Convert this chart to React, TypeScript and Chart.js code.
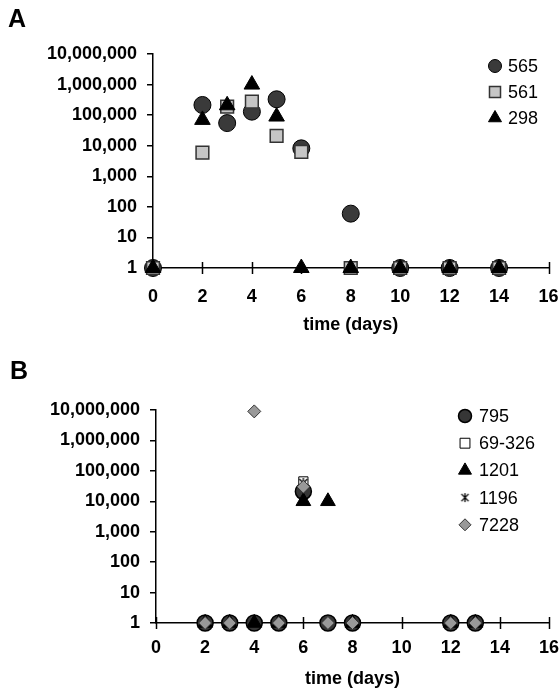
import React, { useEffect, useRef } from "react";
import { Chart, registerables } from "chart.js";
import { drawPoint } from "chart.js/helpers";

Chart.register(...registerables);

const FONT = "'Liberation Sans', Arial, Helvetica, sans-serif";

// Shared axes
const yTickValues = [1, 10, 100, 1000, 10000, 100000, 1000000, 10000000];
const xMin = 0;
const xMax = 16;
const xStep = 2;
const xTitle = "time (days)";

// Panel A
const daysA = [0, 2, 3, 4, 5, 6, 8, 10, 12, 14];
const valsA565 = [1, 215000, 55000, 130000, 330000, 8200, 60, 1, 1, 1];
const valsA561 = [1, 5900, 190000, 275000, 21000, 6300, 1, 1, 1, 1];
const valsA298 = [1, 70000, 210000, 1000000, 90000, 1, 1, 1, 1, 1];

// Panel B
const daysB795 = [2, 3, 4, 5, 6, 7, 8, 12, 13];
const valsB795 = [1, 1, 1, 1, 21000, 1, 1, 1, 1];
const daysB69326 = [6];
const valsB69326 = [45000];
const daysB1201 = [2, 3, 4, 5, 6, 7, 8, 12, 13];
const valsB1201 = [1, 1, 1, 1, 10000, 10000, 1, 1, 1];
const daysB1196 = [6];
const valsB1196 = [40000];
const daysB7228 = [2, 3, 4, 5, 6, 7, 8, 12, 13];
const valsB7228 = [1, 1, 9000000, 1, 30000, 1, 1, 1, 1];

function makeAsterisk(size: number): HTMLCanvasElement {
  const c = document.createElement("canvas");
  c.width = size;
  c.height = size;
  const g = c.getContext("2d")!;
  g.strokeStyle = "#000";
  g.lineWidth = 1.3;
  const m = size / 2;
  const r = size / 2 - 1;
  const d = r * 0.8;
  g.beginPath();
  g.moveTo(m - d, m - d);
  g.lineTo(m + d, m + d);
  g.moveTo(m + d, m - d);
  g.lineTo(m - d, m + d);
  g.moveTo(m, m - r);
  g.lineTo(m, m + r);
  g.stroke();
  return c;
}

function pts(xs: number[], ys: number[]) {
  return xs.map((x, i) => ({ x, y: ys[i] }));
}

const crossTicks = {
  id: "crossTicks",
  beforeDatasetsDraw(chart: any) {
    const xs = chart.scales.x;
    const ctx = chart.ctx;
    const yb = chart.chartArea.bottom;
    ctx.save();
    ctx.strokeStyle = "#000";
    ctx.lineWidth = 1.5;
    for (const t of xs.ticks) {
      const px = Math.round(xs.getPixelForValue(t.value)) + 0.5;
      ctx.beginPath();
      ctx.moveTo(px, yb - 6);
      ctx.lineTo(px, yb + 6);
      ctx.stroke();
    }
    ctx.restore();
  },
};

const customLegend = {
  id: "customLegend",
  afterDraw(chart: any, _args: any, opts: any) {
    const ctx = chart.ctx;
    ctx.save();
    ctx.fillStyle = "#000";
    ctx.font = `bold 25px ${FONT}`;
    ctx.textBaseline = "alphabetic";
    ctx.textAlign = "left";
    ctx.fillText(opts.letter, opts.letterX, opts.letterY);
    opts.items.forEach((it: any, i: number) => {
      const ds = chart.data.datasets[it.index];
      const y = opts.y0 + i * opts.dy;
      ctx.fillStyle = ds.backgroundColor;
      ctx.strokeStyle = ds.borderColor;
      ctx.lineWidth = ds.borderWidth;
      drawPoint(
        ctx,
        { pointStyle: it.style || ds.pointStyle, radius: it.r, rotation: 0, borderWidth: ds.borderWidth },
        opts.markerX,
        y
      );
      ctx.fillStyle = "#000";
      ctx.font = `18px ${FONT}`;
      ctx.textBaseline = "middle";
      ctx.textAlign = "left";
      ctx.fillText(ds.label, opts.textX, y + 1);
    });
    ctx.restore();
  },
};

function makeConfig(datasets: any[], p: any) {
  const tickFont = { family: FONT, size: 18, weight: "bold" as const };
  const titleFont = { family: FONT, size: 18, weight: "bold" as const };
  return {
    type: "scatter" as const,
    data: { datasets },
    options: {
      animation: false as const,
      responsive: false,
      maintainAspectRatio: false,
      layout: { padding: { top: p.top, right: p.right, left: 0, bottom: 0 } },
      plugins: {
        legend: { display: false },
        tooltip: { enabled: false },
        customLegend: p.legend,
      },
      scales: {
        x: {
          type: "linear" as const,
          min: xMin,
          max: xMax,
          ticks: { stepSize: xStep, font: tickFont, color: "#000", padding: p.xLabelPad, maxRotation: 0 },
          grid: { display: false },
          border: { display: true, color: "#000", width: 1.5 },
          title: {
            display: true,
            text: xTitle,
            color: "#000",
            font: titleFont,
            padding: { top: 0, bottom: p.titlePad },
          },
          afterFit: (s: any) => {
            s.height = p.xHeight;
            s.paddingLeft = 0;
            s.paddingRight = 0;
          },
        },
        y: {
          type: "logarithmic" as const,
          min: yTickValues[0],
          max: yTickValues[yTickValues.length - 1],
          afterBuildTicks: (s: any) => {
            s.ticks = yTickValues.map((v) => ({ value: v }));
          },
          ticks: {
            font: tickFont,
            color: "#000",
            padding: 10,
            callback: (v: any) => Number(v).toLocaleString("en-US"),
          },
          grid: { display: true, drawOnChartArea: false, drawTicks: true, tickLength: 6, color: "#000", lineWidth: 1.5 },
          border: { display: true, color: "#000", width: 1.5 },
          afterFit: (s: any) => {
            s.width = p.yWidth;
            s.paddingTop = 0;
            s.paddingBottom = 0;
          },
        },
      },
    },
    plugins: [crossTicks, customLegend],
  };
}

function Panel({ build, top, height }: { build: () => any; top: number; height: number }) {
  const ref = useRef<HTMLCanvasElement>(null);
  useEffect(() => {
    const chart = new Chart(ref.current!, build());
    return () => chart.destroy();
  }, []);
  return (
    <canvas
      ref={ref}
      width={559}
      height={height}
      style={{ position: "fixed", left: 0, top, width: 559, height, display: "block" }}
    />
  );
}

function buildA() {
  const datasets = [
    {
      label: "565",
      data: pts(daysA, valsA565),
      pointStyle: "circle",
      pointRadius: 8.5,
      backgroundColor: "#3a3a3a",
      borderColor: "#000",
      borderWidth: 1,
      order: 3,
      clip: false,
    },
    {
      label: "561",
      data: pts(daysA, valsA561),
      pointStyle: "rect",
      pointRadius: 9,
      backgroundColor: "#c6c6c6",
      borderColor: "#333",
      borderWidth: 1.5,
      order: 2,
      clip: false,
    },
    {
      label: "298",
      data: pts(daysA, valsA298),
      pointStyle: "triangle",
      pointRadius: 9,
      backgroundColor: "#000",
      borderColor: "#000",
      borderWidth: 1,
      order: 1,
      clip: false,
    },
  ];
  return makeConfig(datasets, {
    top: 54,
    right: 10,
    yWidth: 153,
    xHeight: 340 - 268,
    xLabelPad: 10,
    titlePad: 4,
    legend: {
      letter: "A",
      letterX: 8,
      letterY: 26.5,
      markerX: 495,
      textX: 508,
      y0: 66,
      dy: 26,
      items: [
        { index: 0, r: 6.5 },
        { index: 1, r: 7.8 },
        { index: 2, r: 7.5 },
      ],
    },
  });
}

function buildB() {
  const star = makeAsterisk(12);
  const starLegend = makeAsterisk(11);
  const datasets: any[] = [
    {
      label: "795",
      data: pts(daysB795, valsB795),
      pointStyle: "circle",
      pointRadius: 8,
      backgroundColor: "#363636",
      borderColor: "#000",
      borderWidth: 1.5,
      order: 5,
      clip: false,
    },
    {
      label: "69-326",
      data: pts(daysB69326, valsB69326),
      pointStyle: "rect",
      pointRadius: 6.5,
      backgroundColor: "#fff",
      borderColor: "#000",
      borderWidth: 1,
      order: 4,
      clip: false,
    },
    {
      label: "1201",
      data: pts(daysB1201, valsB1201),
      pointStyle: "triangle",
      pointRadius: 8.5,
      backgroundColor: "#000",
      borderColor: "#000",
      borderWidth: 1,
      order: 3,
      clip: false,
    },
    {
      label: "1196",
      data: pts(daysB1196, valsB1196),
      pointStyle: star,
      pointRadius: 6,
      backgroundColor: "#000",
      borderColor: "#000",
      borderWidth: 1,
      order: 2,
      clip: false,
    },
    {
      label: "7228",
      data: pts(daysB7228, valsB7228),
      pointStyle: "rectRot",
      pointRadius: 6.5,
      backgroundColor: "#999",
      borderColor: "#333",
      borderWidth: 1,
      order: 1,
      clip: false,
    },
  ];
  return makeConfig(datasets, {
    top: 60,
    right: 10,
    yWidth: 156,
    xHeight: 340 - 273,
    xLabelPad: 6,
    titlePad: 0,
    legend: {
      letter: "B",
      letterX: 10,
      letterY: 29,
      markerX: 465,
      textX: 479,
      y0: 66,
      dy: 27.2,
      items: [
        { index: 0, r: 6.5 },
        { index: 1, r: 7 },
        { index: 2, r: 7.5 },
        { index: 3, r: 6, style: starLegend },
        { index: 4, r: 6 },
      ],
    },
  });
}

export default function App() {
  return (
    <div style={{ position: "fixed", left: 0, top: 0, width: 559, height: 688, background: "#fff", overflow: "hidden" }}>
      <Panel build={buildA} top={0} height={340} />
      <Panel build={buildB} top={350} height={340} />
    </div>
  );
}
